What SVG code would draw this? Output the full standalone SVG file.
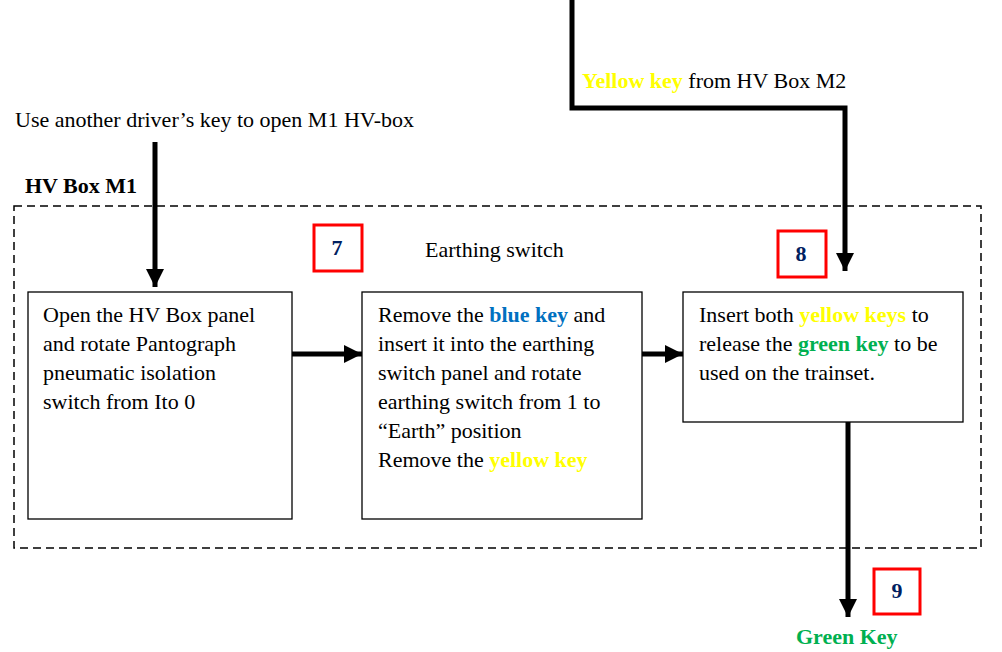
<svg xmlns="http://www.w3.org/2000/svg" width="1002" height="652" viewBox="0 0 1002 652">
<style>
text{font-family:"Liberation Serif","Times New Roman",serif;font-size:22px;fill:#000}
.b{font-weight:bold}
.y{fill:#FFFF00;font-weight:bold}
.bl{fill:#0070C0;font-weight:bold}
.g{fill:#00B050;font-weight:bold}
.num{fill:#002060;font-weight:bold;font-size:22px;text-anchor:middle}
.box{fill:#fff;stroke:#000;stroke-width:1.3}
.tag{fill:#fff;stroke:#FF0000;stroke-width:3}
.line{fill:none;stroke:#000;stroke-width:5}
</style>
<defs>
<marker id="ah" viewBox="0 0 10 10" refX="10" refY="5" markerWidth="3.6" markerHeight="3.6" orient="auto" markerUnits="strokeWidth">
<path d="M0,0 L10,5 L0,10 z" fill="#000"/>
</marker>
</defs>
<rect width="1002" height="652" fill="#fff"/>
<g id="hvbox-m1">
<rect x="14" y="206" width="967" height="342" fill="none" stroke="#000" stroke-width="1.5" stroke-dasharray="8,5"/>
<text x="25" y="193" class="b">HV Box M1</text>
</g>
<g id="label-driver-key"><text x="15" y="127">Use another driver’s key to open M1 HV-box</text></g>
<g id="label-yellow-m2"><text x="582" y="88"><tspan class="y">Yellow key</tspan> from HV Box M2</text></g>
<g id="label-earthing"><text x="425" y="257">Earthing switch</text></g>
<g id="connectors">
<path class="line" d="M155,142 V287" marker-end="url(#ah)"/>
<path class="line" d="M572,0 V108 H845 V271" marker-end="url(#ah)"/>
<path class="line" d="M292,354 H362" marker-end="url(#ah)"/>
<path class="line" d="M642,354 H683" marker-end="url(#ah)"/>
<path class="line" d="M848,422 V617" marker-end="url(#ah)"/>
</g>
<g id="step1">
<rect class="box" x="28" y="292" width="264" height="227"/>
<text x="43" y="322">Open the HV Box panel</text>
<text x="43" y="351">and rotate Pantograph</text>
<text x="43" y="380">pneumatic isolation</text>
<text x="43" y="409">switch from Ito 0</text>
</g>
<g id="step2">
<rect class="box" x="362" y="292" width="280" height="227"/>
<text x="378" y="322">Remove the <tspan class="bl">blue key</tspan> and</text>
<text x="378" y="351">insert it into the earthing</text>
<text x="378" y="380">switch panel and rotate</text>
<text x="378" y="409">earthing switch from 1 to</text>
<text x="378" y="438">“Earth” position</text>
<text x="378" y="467">Remove the <tspan class="y">yellow key</tspan></text>
</g>
<g id="step3">
<rect class="box" x="683" y="292" width="280" height="130"/>
<text x="699" y="322">Insert both <tspan class="y">yellow keys</tspan> to</text>
<text x="699" y="351">release the <tspan class="g">green key</tspan> to be</text>
<text x="699" y="380">used on the trainset.</text>
</g>
<g id="tag7"><rect class="tag" x="314" y="225" width="48" height="46"/><text class="num" x="337" y="255">7</text></g>
<g id="tag8"><rect class="tag" x="778" y="231" width="48" height="46"/><text class="num" x="801" y="261">8</text></g>
<g id="tag9"><rect class="tag" x="874" y="569" width="46" height="45"/><text class="num" x="897" y="598">9</text></g>
<g id="green-key"><text x="796" y="644" class="g">Green Key</text></g>
</svg>
